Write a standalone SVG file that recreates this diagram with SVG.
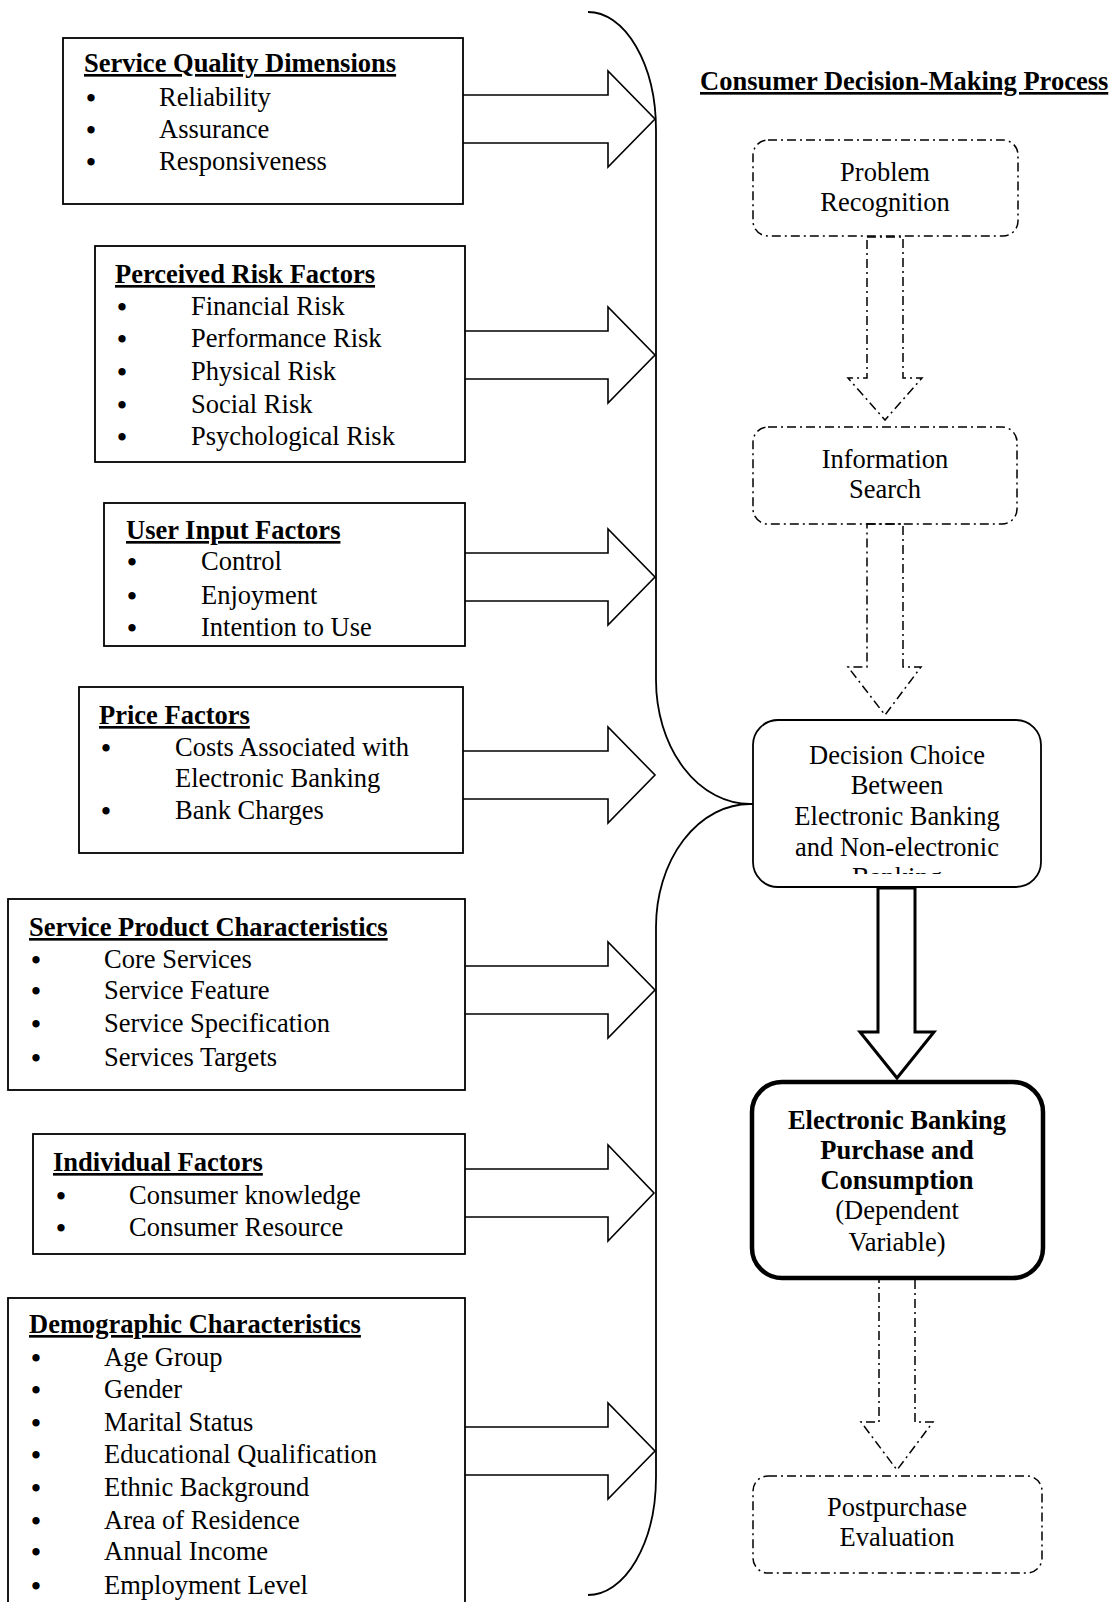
<svg xmlns="http://www.w3.org/2000/svg" width="1117" height="1602" viewBox="0 0 1117 1602">
<style>
text{font-family:"Liberation Serif","Times New Roman",serif;font-size:26.5px;fill:#000}
.t{font-weight:bold;text-decoration:underline}
.b{font-weight:bold}
.c{text-anchor:middle}
.u{text-anchor:middle;font-size:27px;font-weight:bold}
.box{fill:#fff;stroke:#000;stroke-width:1.8}
.arr{fill:#fff;stroke:#000;stroke-width:1.6;stroke-linejoin:miter}
.dd{fill:none;stroke:#000;stroke-width:1.5;stroke-dasharray:9 4 2 4}
.line{fill:none;stroke:#000;stroke-width:1.8}
</style>
<defs>
<clipPath id="clipDec"><rect x="753" y="720" width="290" height="154"/></clipPath>
</defs>
<rect width="1117" height="1602" fill="#fff"/>

<g id="connectors">
<path class="line" d="M 588 12 A 68 118 0 0 1 656 130 L 656 680 A 94 124 0 0 0 750 804 L 753 804 M 750 804 A 94 123 0 0 0 656 927 L 656 1477 A 68 118 0 0 1 588 1595"/>
<polyline class="arr" points="463,95 608,95 608,71 655,119 608,167 608,143 463,143"/>
<polyline class="arr" points="465,331 608,331 608,307 655,355 608,403 608,379 465,379"/>
<polyline class="arr" points="465,553 608,553 608,529 655,577 608,625 608,601 465,601"/>
<polyline class="arr" points="463,751 608,751 608,727 655,775 608,823 608,799 463,799"/>
<polyline class="arr" points="465,966 608,966 608,942 655,990 608,1038 608,1014 465,1014"/>
<polyline class="arr" points="465,1169 608,1169 608,1145 654,1193 608,1241 608,1217 465,1217"/>
<polyline class="arr" points="465,1427 608,1427 608,1403 655,1451 608,1499 608,1475 465,1475"/>
<polygon class="dd" points="867,237 903,237 903,378 922,378 885,420 848,378 867,378"/>
<polygon class="dd" points="867,524 903,524 903,667 921,667 885,715 848,667 867,667"/>
<polygon class="dd" points="879,1278 915,1278 915,1422 933,1422 897,1470 861,1422 879,1422"/>
<polygon class="arr" style="stroke-width:3" points="878,888 915,888 915,1032 934,1032 897,1078 860,1032 878,1032"/>
</g>

<g id="sqd">
<rect class="box" x="63" y="38" width="400" height="166"/>
<text class="t" x="84" y="72">Service Quality Dimensions</text>
<text class="u" x="91" y="107">•</text><text x="159" y="106">Reliability</text>
<text class="u" x="91" y="139">•</text><text x="159" y="138">Assurance</text>
<text class="u" x="91" y="171">•</text><text x="159" y="170">Responsiveness</text>
</g>

<g id="prf">
<rect class="box" x="95" y="246" width="370" height="216"/>
<text class="t" x="115" y="283">Perceived Risk Factors</text>
<text class="u" x="122" y="316">•</text><text x="191" y="315">Financial Risk</text>
<text class="u" x="122" y="348">•</text><text x="191" y="347">Performance Risk</text>
<text class="u" x="122" y="381">•</text><text x="191" y="380">Physical Risk</text>
<text class="u" x="122" y="414">•</text><text x="191" y="413">Social Risk</text>
<text class="u" x="122" y="446">•</text><text x="191" y="445">Psychological Risk</text>
</g>

<g id="uif">
<rect class="box" x="104" y="503" width="361" height="143"/>
<text class="t" x="126" y="539">User Input Factors</text>
<text class="u" x="132" y="571">•</text><text x="201" y="570">Control</text>
<text class="u" x="132" y="605">•</text><text x="201" y="604">Enjoyment</text>
<text class="u" x="132" y="637">•</text><text x="201" y="636">Intention to Use</text>
</g>

<g id="pf">
<rect class="box" x="79" y="687" width="384" height="166"/>
<text class="t" x="99" y="724">Price Factors</text>
<text class="u" x="106" y="757">•</text><text x="175" y="756">Costs Associated with</text>
<text x="175" y="787">Electronic Banking</text>
<text class="u" x="106" y="820">•</text><text x="175" y="819">Bank Charges</text>
</g>

<g id="spc">
<rect class="box" x="8" y="899" width="457" height="191"/>
<text class="t" x="29" y="936">Service Product Characteristics</text>
<text class="u" x="36" y="969">•</text><text x="104" y="968">Core Services</text>
<text class="u" x="36" y="1000">•</text><text x="104" y="999">Service Feature</text>
<text class="u" x="36" y="1033">•</text><text x="104" y="1032">Service Specification</text>
<text class="u" x="36" y="1067">•</text><text x="104" y="1066">Services Targets</text>
</g>

<g id="if">
<rect class="box" x="33" y="1134" width="432" height="120"/>
<text class="t" x="53" y="1171">Individual Factors</text>
<text class="u" x="61" y="1205">•</text><text x="129" y="1204">Consumer knowledge</text>
<text class="u" x="61" y="1237">•</text><text x="129" y="1236">Consumer Resource</text>
</g>

<g id="dc">
<rect class="box" x="8" y="1298" width="457" height="320"/>
<text class="t" x="29" y="1333">Demographic Characteristics</text>
<text class="u" x="36" y="1367">•</text><text x="104" y="1366">Age Group</text>
<text class="u" x="36" y="1399">•</text><text x="104" y="1398">Gender</text>
<text class="u" x="36" y="1432">•</text><text x="104" y="1431">Marital Status</text>
<text class="u" x="36" y="1464">•</text><text x="104" y="1463">Educational Qualification</text>
<text class="u" x="36" y="1497">•</text><text x="104" y="1496">Ethnic Background</text>
<text class="u" x="36" y="1530">•</text><text x="104" y="1529">Area of Residence</text>
<text class="u" x="36" y="1561">•</text><text x="104" y="1560">Annual Income</text>
<text class="u" x="36" y="1595">•</text><text x="104" y="1594">Employment Level</text>
</g>

<g id="title">
<text class="t" x="700" y="90">Consumer Decision-Making Process</text>
</g>

<g id="problem">
<rect class="dd" x="753" y="140" width="265" height="96" rx="15"/>
<text class="c" x="885" y="181">Problem</text>
<text class="c" x="885" y="211">Recognition</text>
</g>

<g id="search">
<rect class="dd" x="753" y="427" width="264" height="97" rx="15"/>
<text class="c" x="885" y="468">Information</text>
<text class="c" x="885" y="498">Search</text>
</g>

<g id="decision">
<rect class="box" x="753" y="720" width="288" height="167" rx="25"/>
<g clip-path="url(#clipDec)">
<text class="c" x="897" y="764">Decision Choice</text>
<text class="c" x="897" y="794">Between</text>
<text class="c" x="897" y="825">Electronic Banking</text>
<text class="c" x="897" y="856">and Non-electronic</text>
<text class="c" x="897" y="886">Banking</text>
</g>
</g>

<g id="purchase">
<rect x="752" y="1082" width="291" height="196" rx="30" fill="#fff" stroke="#000" stroke-width="4.5"/>
<text class="c b" x="897" y="1129">Electronic Banking</text>
<text class="c b" x="897" y="1159">Purchase and</text>
<text class="c b" x="897" y="1189">Consumption</text>
<text class="c" x="897" y="1219">(Dependent</text>
<text class="c" x="897" y="1251">Variable)</text>
</g>

<g id="post">
<rect class="dd" x="753" y="1476" width="289" height="97" rx="15"/>
<text class="c" x="897" y="1516">Postpurchase</text>
<text class="c" x="897" y="1546">Evaluation</text>
</g>
</svg>
